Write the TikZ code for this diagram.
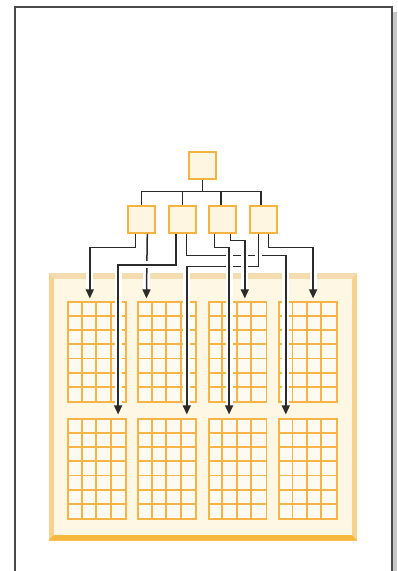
\documentclass[tikz,border=0pt]{standalone}
\usetikzlibrary{arrows.meta,calc}
\definecolor{framec}{HTML}{4A4A4A}
\definecolor{shadowc}{HTML}{C8C8C8}
\definecolor{boxc}{HTML}{F5B440}
\definecolor{boxfill}{HTML}{FEF6E0}
\definecolor{creamc}{HTML}{FEF7E3}
\definecolor{toptan}{HTML}{F3DCB0}
\definecolor{sidetan}{HTML}{F6D28F}
\definecolor{bottomc}{HTML}{F6B73C}
\definecolor{gridc}{HTML}{F5B445}
\definecolor{cellc}{HTML}{FDFAF2}
\definecolor{linec}{HTML}{2B2B2B}
\begin{document}
\begin{tikzpicture}[x=1pt,y=-1pt,
  unitbox/.style={draw=boxc, fill=boxfill, line width=1.7pt, minimum width=27pt, minimum height=27pt, inner sep=0pt},
  gridbox/.style={draw=gridc, fill=cellc, line width=1.8pt, minimum width=57.7pt, minimum height=100pt, inner sep=0pt},
  gridline/.style={draw=gridc, line width=1.8pt},
  conn/.style={draw=linec, line width=1.5pt},
  busline/.style={draw=linec, line width=1.8pt},
  haloconn/.style={conn, -{Triangle[width=8pt,length=9pt]},
    preaction={draw=white, line width=7pt, -, shorten >=9pt, shorten <=1pt}}
]
\useasboundingbox (0,0) rectangle (397,571);
\fill[white] (0,0) rectangle (397,571);
% frame and shadow
\fill[shadowc] (392.8,12) rectangle (397,571);
\draw[framec, line width=1.8pt] (15,575) -- (15,6.8) -- (391.8,6.8) -- (391.8,575);
% container with bevel
\fill[sidetan] (48.5,273) rectangle (357,540.5);
\fill[toptan] (48.5,273) -- (357,273) -- (352,279) -- (54,279) -- cycle;
\fill[bottomc] (48.5,540.5) -- (357,540.5) -- (352,535) -- (54,535) -- cycle;
\fill[creamc] (54,279) rectangle (352,535);
% grids
\node[gridbox] (g11) at (97.15,352.3) {};
\node[gridbox] (g12) at (167.15,352.3) {};
\node[gridbox] (g13) at (237.55,352.3) {};
\node[gridbox] (g14) at (307.85,352.3) {};
\node[gridbox] (g21) at (97.15,469.3) {};
\node[gridbox] (g22) at (167.15,469.3) {};
\node[gridbox] (g23) at (237.55,469.3) {};
\node[gridbox] (g24) at (307.85,469.3) {};
\foreach \g in {g11,g12,g13,g14,g21,g22,g23,g24}{
  \foreach \i in {1,2,3}{
    \draw[gridline] ([xshift=\i*14.425pt]\g.north west) -- ([xshift=\i*14.425pt]\g.south west);}
  \foreach \j in {1,...,6}{
    \draw[gridline] ([yshift=-\j*14.2857pt]\g.north west) -- ([yshift=-\j*14.2857pt]\g.north east);}
}
% boxes
\node[unitbox] (top) at (202.5,165.5) {};
\node[unitbox] (b1) at (141.5,219.5) {};
\node[unitbox] (b2) at (182.5,219.5) {};
\node[unitbox] (b3) at (222.5,219.5) {};
\node[unitbox] (b4) at (263.5,219.5) {};
% bus
\coordinate (bus) at (202.5,191.5);
\coordinate (d3) at ([xshift=-1.5pt]b3.north);
\coordinate (d4) at ([xshift=-2.5pt]b4.north);
\draw[busline] (top.south) -- (bus);
\draw[busline] (b1.north) |- (bus) -| (d4);
\draw[busline] (b2.north) -- (b2.north |- bus);
\draw[busline] (d3) -- (d3 |- bus);
% ports
\coordinate (p1a) at ([xshift=-6.2pt]b1.south);
\coordinate (p1b) at ([xshift=5.8pt]b1.south);
\coordinate (p2a) at ([xshift=-6.5pt]b2.south);
\coordinate (p2b) at ([xshift=4.2pt]b2.south);
\coordinate (p3a) at ([xshift=-8.2pt]b3.south);
\coordinate (p3b) at ([xshift=8.2pt]b3.south);
\coordinate (p4a) at ([xshift=-4.8pt]b4.south);
\coordinate (p4b) at ([xshift=5.2pt]b4.south);
% targets
\coordinate (t11) at ([xshift=22.4pt,yshift=3pt]g11.north west);
\coordinate (t12) at ([xshift=9pt,yshift=3pt]g12.north west);
\coordinate (t13) at ([xshift=37pt,yshift=3pt]g13.north west);
\coordinate (t14) at ([xshift=35pt,yshift=3pt]g14.north west);
\coordinate (t21) at ([xshift=50.7pt,yshift=4pt]g21.north west);
\coordinate (t22) at ([xshift=49.4pt,yshift=4pt]g22.north west);
\coordinate (t23) at ([xshift=21.3pt,yshift=4pt]g23.north west);
\coordinate (t24) at ([xshift=7.7pt,yshift=4pt]g24.north west);
% connectors
\draw[haloconn] (p1a) -- ++(0,13.7) -| (t11);
\draw[haloconn] (p1b) -- (t12);
\draw[haloconn] (p2a) -- ++(0,31) -| (t21);
\draw[haloconn] (p2b) -- ++(0,21.5) -| (t24);
\draw[haloconn] (p4a) -- ++(0,32.5) -| (t22);
\draw[haloconn] (p3a) -- ++(0,13.7) -| (t23);
\draw[haloconn] (p3b) -- ++(0,6.5) -| (t13);
\draw[haloconn] (p4b) -- ++(0,13.7) -| (t14);
\end{tikzpicture}
\end{document}
